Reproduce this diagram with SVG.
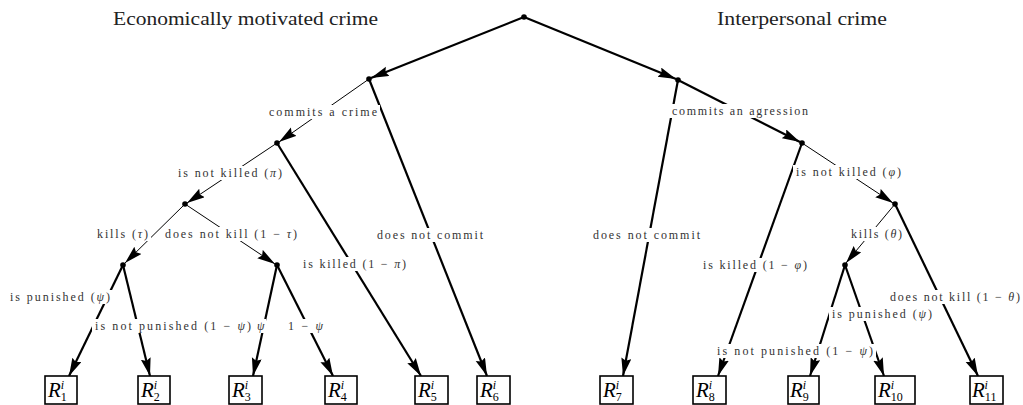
<svg xmlns="http://www.w3.org/2000/svg" width="1023" height="405" viewBox="0 0 1023 405">
<style>
.title{font-family:"Liberation Serif",serif;font-size:18px;fill:#222}
.lbl{font-family:"Liberation Serif",serif;font-size:12px;fill:#333}
.bg{fill:#fff}
.thick{stroke:#000;stroke-width:2.2;fill:none;marker-end:url(#ah)}
.thin{stroke:#000;stroke-width:1;fill:none;marker-end:url(#ah)}
.dot{fill:#000}
.box{fill:#fff;stroke:#000;stroke-width:1.6}
.r{font-family:"Liberation Serif",serif;font-size:21px;font-style:italic;fill:#000}
.s{font-size:12px;font-style:normal}
.si{font-size:12px;font-style:italic}
</style>
<defs>
<marker id="ah" markerWidth="19" markerHeight="11" refX="18" refY="5" orient="auto" markerUnits="userSpaceOnUse">
<path d="M0,0 L18,5 L0,10 L2.5,5 z" fill="#000"/>
</marker>
</defs>
<rect width="1023" height="405" fill="#fff"/>
<text class="title" x="113" y="25" textLength="265" lengthAdjust="spacingAndGlyphs">Economically motivated crime</text>
<text class="title" x="717" y="25" textLength="170" lengthAdjust="spacingAndGlyphs">Interpersonal crime</text>

<g id="connectors">
<line class="thick" x1="524" y1="17" x2="371" y2="78"/>
<line class="thick" x1="524" y1="17" x2="676" y2="79"/>
<line class="thin" x1="369" y1="79" x2="279" y2="142"/>
<line class="thick" x1="369" y1="79" x2="487" y2="376"/>
<line class="thin" x1="277" y1="143" x2="187" y2="203"/>
<line class="thick" x1="277" y1="143" x2="421" y2="376"/>
<line class="thin" x1="185" y1="204" x2="125" y2="263"/>
<line class="thin" x1="185" y1="204" x2="275" y2="264"/>
<line class="thick" x1="123" y1="265" x2="69" y2="376"/>
<line class="thick" x1="123" y1="265" x2="150" y2="376"/>
<line class="thick" x1="277" y1="265" x2="253" y2="376"/>
<line class="thick" x1="277" y1="265" x2="333" y2="376"/>
<line class="thick" x1="678" y1="80" x2="800" y2="142"/>
<line class="thick" x1="678" y1="80" x2="623" y2="376"/>
<line class="thin" x1="802" y1="143" x2="893" y2="203"/>
<line class="thick" x1="802" y1="143" x2="718" y2="376"/>
<line class="thin" x1="895" y1="204" x2="846" y2="263"/>
<line class="thick" x1="895" y1="204" x2="978" y2="376"/>
<line class="thick" x1="845" y1="265" x2="810" y2="376"/>
<line class="thick" x1="845" y1="265" x2="884" y2="376"/>
</g>

<g id="labels">
<rect class="bg" x="266" y="105" width="114" height="14"/>
<text class="lbl" x="269" y="116" textLength="108" lengthAdjust="spacing">commits a crime</text>
<rect class="bg" x="175" y="166" width="110" height="14"/>
<text class="lbl" x="178" y="177" textLength="104" lengthAdjust="spacing">is not killed (<tspan font-style="italic">π</tspan>)</text>
<rect class="bg" x="94" y="227" width="57" height="14"/>
<text class="lbl" x="97" y="238" textLength="51" lengthAdjust="spacing">kills (<tspan font-style="italic">τ</tspan>)</text>
<rect class="bg" x="162" y="227" width="138" height="14"/>
<text class="lbl" x="165" y="238" textLength="132" lengthAdjust="spacing">does not kill (1 − <tspan font-style="italic">τ</tspan>)</text>
<rect class="bg" x="300" y="257" width="109" height="14"/>
<text class="lbl" x="303" y="268" textLength="103" lengthAdjust="spacing">is killed (1 − <tspan font-style="italic">π</tspan>)</text>
<rect class="bg" x="374" y="228" width="112" height="14"/>
<text class="lbl" x="377" y="239" textLength="106" lengthAdjust="spacing">does not commit</text>
<rect class="bg" x="7" y="290" width="106" height="14"/>
<text class="lbl" x="10" y="301" textLength="100" lengthAdjust="spacing">is punished (<tspan font-style="italic">ψ</tspan>)</text>
<rect class="bg" x="92" y="319" width="162" height="14"/>
<text class="lbl" x="95" y="330" textLength="156" lengthAdjust="spacing">is not punished (1 − <tspan font-style="italic">ψ</tspan>)</text>
<rect class="bg" x="255" y="319" width="11" height="14"/>
<text class="lbl" x="257" y="330" font-style="italic">ψ</text>
<rect class="bg" x="285" y="319" width="41" height="14"/>
<text class="lbl" x="288" y="330" textLength="35" lengthAdjust="spacing">1 − <tspan font-style="italic">ψ</tspan></text>
<rect class="bg" x="669" y="104" width="142" height="14"/>
<text class="lbl" x="672" y="115" textLength="136" lengthAdjust="spacing">commits an agression</text>
<rect class="bg" x="590" y="228" width="113" height="14"/>
<text class="lbl" x="593" y="239" textLength="107" lengthAdjust="spacing">does not commit</text>
<rect class="bg" x="793" y="165" width="111" height="14"/>
<text class="lbl" x="796" y="176" textLength="105" lengthAdjust="spacing">is not killed (<tspan font-style="italic">φ</tspan>)</text>
<rect class="bg" x="700" y="258" width="110" height="14"/>
<text class="lbl" x="703" y="269" textLength="104" lengthAdjust="spacing">is killed (1 − <tspan font-style="italic">φ</tspan>)</text>
<rect class="bg" x="848" y="227" width="57" height="14"/>
<text class="lbl" x="851" y="238" textLength="51" lengthAdjust="spacing">kills (<tspan font-style="italic">θ</tspan>)</text>
<rect class="bg" x="887" y="290" width="136" height="14"/>
<text class="lbl" x="890" y="301" textLength="130" lengthAdjust="spacing">does not kill (1 − <tspan font-style="italic">θ</tspan>)</text>
<rect class="bg" x="829" y="307" width="106" height="14"/>
<text class="lbl" x="832" y="318" textLength="100" lengthAdjust="spacing">is punished (<tspan font-style="italic">ψ</tspan>)</text>
<rect class="bg" x="714" y="344" width="162" height="14"/>
<text class="lbl" x="717" y="355" textLength="156" lengthAdjust="spacing">is not punished (1 − <tspan font-style="italic">ψ</tspan>)</text>
</g>

<g id="n-root"><circle class="dot" cx="524" cy="17" r="2.8"/></g>
<g id="n-econ"><circle class="dot" cx="369" cy="79" r="2.8"/></g>
<g id="n-crime"><circle class="dot" cx="277" cy="143" r="2.8"/></g>
<g id="n-notkilled"><circle class="dot" cx="185" cy="204" r="2.8"/></g>
<g id="n-kills"><circle class="dot" cx="123" cy="265" r="2.8"/></g>
<g id="n-notkill"><circle class="dot" cx="277" cy="265" r="2.8"/></g>
<g id="n-inter"><circle class="dot" cx="678" cy="80" r="2.8"/></g>
<g id="n-agr"><circle class="dot" cx="802" cy="143" r="2.8"/></g>
<g id="n-notkilled2"><circle class="dot" cx="895" cy="204" r="2.8"/></g>
<g id="n-kills2"><circle class="dot" cx="845" cy="265" r="2.8"/></g>

<g id="R1"><rect class="box" x="45" y="376" width="32" height="28"/><text class="r" x="48" y="397">R<tspan class="s" dy="4">1</tspan><tspan class="si" dx="-6" dy="-12">i</tspan></text></g>
<g id="R2"><rect class="box" x="138" y="376" width="32" height="28"/><text class="r" x="141" y="397">R<tspan class="s" dy="4">2</tspan><tspan class="si" dx="-6" dy="-12">i</tspan></text></g>
<g id="R3"><rect class="box" x="229" y="376" width="33" height="28"/><text class="r" x="232" y="397">R<tspan class="s" dy="4">3</tspan><tspan class="si" dx="-6" dy="-12">i</tspan></text></g>
<g id="R4"><rect class="box" x="325" y="376" width="32" height="28"/><text class="r" x="328" y="397">R<tspan class="s" dy="4">4</tspan><tspan class="si" dx="-6" dy="-12">i</tspan></text></g>
<g id="R5"><rect class="box" x="415" y="376" width="33" height="28"/><text class="r" x="418" y="397">R<tspan class="s" dy="4">5</tspan><tspan class="si" dx="-6" dy="-12">i</tspan></text></g>
<g id="R6"><rect class="box" x="477" y="376" width="33" height="28"/><text class="r" x="480" y="397">R<tspan class="s" dy="4">6</tspan><tspan class="si" dx="-6" dy="-12">i</tspan></text></g>
<g id="R7"><rect class="box" x="600" y="376" width="33" height="28"/><text class="r" x="603" y="397">R<tspan class="s" dy="4">7</tspan><tspan class="si" dx="-6" dy="-12">i</tspan></text></g>
<g id="R8"><rect class="box" x="693" y="376" width="33" height="28"/><text class="r" x="696" y="397">R<tspan class="s" dy="4">8</tspan><tspan class="si" dx="-6" dy="-12">i</tspan></text></g>
<g id="R9"><rect class="box" x="788" y="376" width="31" height="28"/><text class="r" x="790" y="397">R<tspan class="s" dy="4">9</tspan><tspan class="si" dx="-6" dy="-12">i</tspan></text></g>
<g id="R10"><rect class="box" x="875" y="376" width="40" height="28"/><text class="r" x="878" y="397">R<tspan class="s" dy="4">10</tspan><tspan class="si" dx="-12" dy="-12">i</tspan></text></g>
<g id="R11"><rect class="box" x="970" y="376" width="33" height="28"/><text class="r" x="972" y="397">R<tspan class="s" dy="4">11</tspan><tspan class="si" dx="-12" dy="-12">i</tspan></text></g>
</svg>
